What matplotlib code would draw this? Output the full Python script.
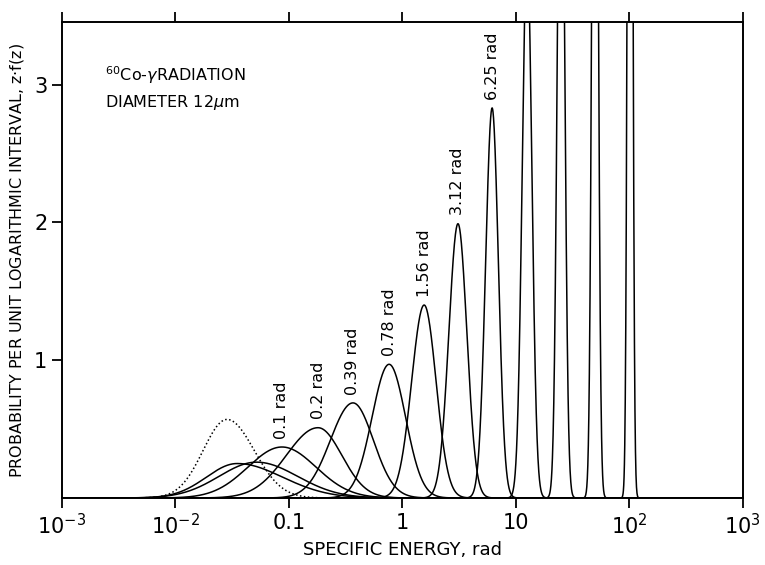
import numpy as np
import matplotlib.pyplot as plt

# dose labels, peak positions (rad), peak heights, left/right widths (decades)
doses = ["0.025", "0.05", "0.1", "0.2", "0.39", "0.78", "1.56", "3.12", "6.25",
         "12.5", "25", "50", "100"]
peaks = [0.035, 0.052, 0.087, 0.181, 0.368, 0.766, 1.56, 3.10, 6.2,
         12.6, 25.1, 50.1, 102]
heights = [0.25, 0.26, 0.37, 0.51, 0.69, 0.97, 1.40, 1.99, 2.83,
           4.0, 5.66, 8.0, 11.3]
width_left = [0.27, 0.33, 0.30, 0.28, 0.20, 0.15, 0.11, 0.08, 0.057,
              0.042, 0.031, 0.024, 0.018]
width_right = [0.40, 0.36, 0.30, 0.21, 0.18, 0.145, 0.105, 0.078, 0.055,
               0.042, 0.031, 0.024, 0.018]
labelled = ["0.1", "0.2", "0.39", "0.78", "1.56", "3.12", "6.25"]

# single event distribution (dotted)
single_peak = 0.0285
single_height = 0.57
single_left = 0.21
single_right = 0.24

xtick_vals = [1e-3, 1e-2, 0.1, 1, 10, 1e2, 1e3]
xtick_labels = ["10$^{-3}$", "10$^{-2}$", "0.1", "1", "10", "10$^{2}$", "10$^{3}$"]
ytick_vals = [1, 2, 3]


def shape(z, p, h, sl, sr):
    d = np.log10(z) - np.log10(p)
    s = np.where(d < 0, sl, sr)
    return h * np.exp(-0.5 * (d / s) ** 2)


z = np.logspace(-3, 3, 4000)

fig = plt.figure(figsize=(7.65, 5.65), dpi=100)
ax = fig.add_axes([0.081, 0.1186, 0.8896, 0.8416])

for i in range(len(doses)):
    ax.plot(z, shape(z, peaks[i], heights[i], width_left[i], width_right[i]),
            color='black', lw=1.1)
    if doses[i] in labelled:
        ax.annotate(doses[i] + " rad", (peaks[i], heights[i]), xytext=(0, 6),
                    textcoords='offset points', rotation=90, ha='center',
                    va='bottom', fontsize=11.5)

ax.plot(z, shape(z, single_peak, single_height, single_left, single_right),
        color='black', lw=1.1, linestyle=(0, (1, 1.6)))

ax.set_xscale('log')
ax.set_xlim(1e-3, 1e3)
ax.set_ylim(0, 3.45)
ax.set_xticks(xtick_vals)
ax.set_xticklabels(xtick_labels, fontsize=15)
ax.minorticks_off()
ax.set_yticks(ytick_vals)
ax.set_yticklabels([str(v) for v in ytick_vals], fontsize=15)
ax.tick_params(direction='out', length=7, width=1.3, top=True, right=False)
for sp in ax.spines.values():
    sp.set_linewidth(1.4)

ax.set_xlabel("SPECIFIC ENERGY, rad", fontsize=13, labelpad=2)
ax.set_ylabel("PROBABILITY PER UNIT LOGARITHMIC INTERVAL, z$\\cdot$f(z)",
              fontsize=11.5, labelpad=6)

ax.text(0.063, 3.07, "$^{60}$Co-$\\gamma$RADIATION", fontsize=11.5,
        transform=ax.get_yaxis_transform(), va='center')
ax.text(0.063, 2.87, "DIAMETER 12$\\mu$m", fontsize=11.5,
        transform=ax.get_yaxis_transform(), va='center')

fig.savefig("out.png", dpi=100)
